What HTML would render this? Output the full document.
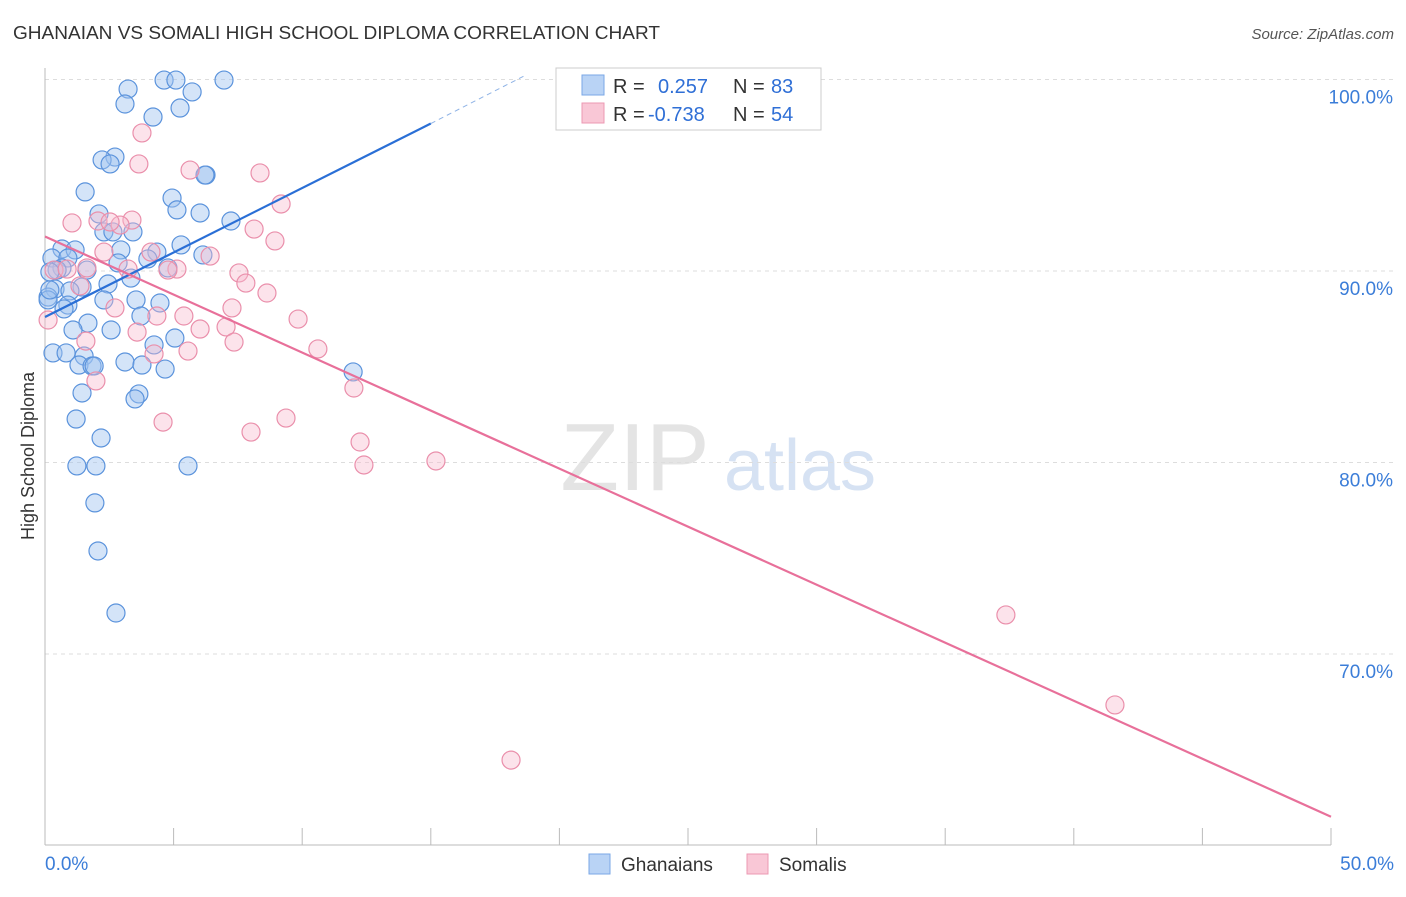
<!DOCTYPE html>
<html><head><meta charset="utf-8">
<style>
body{margin:0;background:#fff;font-family:"Liberation Sans",sans-serif;}
svg text{font-family:"Liberation Sans",sans-serif;}
</style></head>
<body>
<svg id="chart" width="1406" height="892" xmlns="http://www.w3.org/2000/svg">
<text x="13" y="39" font-size="18" fill="#333" textLength="647" lengthAdjust="spacingAndGlyphs">GHANAIAN VS SOMALI HIGH SCHOOL DIPLOMA CORRELATION CHART</text>
<text x="1394" y="39" font-size="15" fill="#555" text-anchor="end" font-style="italic">Source: ZipAtlas.com</text>
<text transform="translate(34,456) rotate(-90)" font-size="18" fill="#333" text-anchor="middle">High School Diploma</text>
<g>
<text x="635" y="490" font-size="96" fill="#e4e4e4" text-anchor="middle" font-family="Liberation Serif,serif">ZIP</text>
<text x="800" y="490" font-size="72" fill="#d6e2f3" text-anchor="middle">atlas</text>
</g>
<g id="grid"></g><g id="axes"></g><g id="pts"></g><g id="lines"></g>
<g>
<rect x="556" y="68" width="265" height="62" fill="#fff" stroke="#ccc"/>
<rect x="582" y="75" width="22" height="20" fill="#b9d3f5" stroke="#7aa7e6"/>
<rect x="582" y="103" width="22" height="20" fill="#f9c7d6" stroke="#ec99b3"/>
<text x="613" y="93" font-size="20" fill="#333">R =</text><text x="658" y="93" font-size="20" fill="#2f6fd6">0.257</text>
<text x="733" y="93" font-size="20" fill="#333">N =</text><text x="771" y="93" font-size="20" fill="#2f6fd6">83</text>
<text x="613" y="121" font-size="20" fill="#333">R =</text><text x="648" y="121" font-size="20" fill="#2f6fd6">-0.738</text>
<text x="733" y="121" font-size="20" fill="#333">N =</text><text x="771" y="121" font-size="20" fill="#2f6fd6">54</text>
</g>
<g>
<rect x="589" y="854" width="21" height="20" fill="#b9d3f5" stroke="#7aa7e6"/>
<text x="621" y="871" font-size="19" fill="#333">Ghanaians</text>
<rect x="747" y="854" width="21" height="20" fill="#f9c7d6" stroke="#ec99b3"/>
<text x="779" y="871" font-size="19" fill="#333">Somalis</text>
</g>
</svg>
<script>
const xTicks=[0,5,10,15,20,25,30,35,40,45,50];
const yTicks=[70,80,90,100];
const yTickLabels=["70.0%","80.0%","90.0%","100.0%"];
const bluePx=[[164,80],[176,80],[224,80],[128,89],[192,92],[125,104],[180,108],[153,117],[115,157],[102,160],[110,164],[206,175],[205,175],[85,192],[172,198],[177,210],[99,214],[200,213],[231,221],[104,232],[113,232],[133,232],[62,249],[75,250],[181,245],[121,250],[157,252],[148,259],[52,258],[68,258],[118,263],[203,255],[168,268],[62,268],[57,270],[50,272],[87,270],[131,278],[108,284],[55,289],[82,287],[70,291],[48,297],[104,300],[136,300],[160,303],[68,305],[64,309],[141,316],[88,323],[73,330],[111,330],[175,338],[154,345],[53,353],[66,353],[84,356],[125,362],[142,365],[79,365],[92,366],[94,366],[165,369],[353,372],[82,393],[139,394],[135,399],[76,419],[101,438],[77,466],[96,466],[188,466],[95,503],[98,551],[116,613],[48,300],[50,290]];
const pinkPx=[[142,133],[139,164],[190,170],[260,173],[281,204],[132,220],[72,223],[98,221],[120,225],[254,229],[275,241],[104,252],[151,252],[210,256],[87,268],[128,269],[177,269],[168,270],[54,270],[67,269],[239,273],[246,283],[80,286],[267,293],[115,308],[232,308],[184,316],[298,319],[157,316],[137,332],[200,329],[226,327],[86,341],[234,342],[318,349],[188,351],[154,354],[96,381],[354,388],[163,422],[286,418],[251,432],[360,442],[364,465],[436,461],[1006,615],[1115,705],[511,760],[48,320],[110,222]];
const blueX=bluePx.map(p=>+((p[0]-45)/1286*50).toFixed(2));
const blueY=bluePx.map(p=>+(100-(p[1]-79.5)/19.15).toFixed(2));
const pinkX=pinkPx.map(p=>+((p[0]-45)/1286*50).toFixed(2));
const pinkY=pinkPx.map(p=>+(100-(p[1]-79.5)/19.15).toFixed(2));
const blueLine=[[0,87.6],[15,97.7]], blueDash=[[15,97.7],[18.65,100.2]];
const pinkLine=[[0,91.8],[50,61.5]];
const X=v=>45+v/50*1286, Y=v=>79.5+(100-v)*19.15;
const NS="http://www.w3.org/2000/svg";
function mk(t,a,parent){const e=document.createElementNS(NS,t);for(const k in a)e.setAttribute(k,a[k]);document.getElementById(parent).appendChild(e);return e;}
yTicks.forEach((t,i)=>{
 const g=mk('line',{x1:45,x2:1394,y1:Y(t),y2:Y(t),stroke:'#ddd','stroke-dasharray':'4,4'},'grid');
 
 
 const l=mk('text',{x:1393,y:Y(t)+24,'font-size':19,fill:'#3b7dd8','text-anchor':'end'},'axes');l.textContent=yTickLabels[i];
 
 
});
mk('line',{x1:45,x2:1331,y1:845,y2:845,stroke:'#bbb'},'axes');
mk('line',{x1:45,x2:45,y1:68,y2:845,stroke:'#bbb'},'axes');
xTicks.forEach(t=>{const e=mk('line',{x1:X(t),x2:X(t),y1:828,y2:845,stroke:'#bbb'},'axes');
 
 });
let a=mk('text',{x:45,y:870,'font-size':19,fill:'#3b7dd8'},'axes');a.textContent='0.0%';


a=mk('text',{x:1394,y:870,'font-size':19,fill:'#3b7dd8','text-anchor':'end'},'axes');a.textContent='50.0%';


blueX.forEach((v,i)=>{const c=mk('circle',{cx:X(v),cy:Y(blueY[i]),r:9,fill:'rgba(160,196,240,0.45)',stroke:'#5b93dc','stroke-width':1.2},'pts');
 
 });
pinkX.forEach((v,i)=>{const c=mk('circle',{cx:X(v),cy:Y(pinkY[i]),r:9,fill:'rgba(248,184,204,0.4)',stroke:'#ea8fab','stroke-width':1.2},'pts');
 
 });
let ln=mk('line',{x1:X(blueLine[0][0]),y1:Y(blueLine[0][1]),x2:X(blueLine[1][0]),y2:Y(blueLine[1][1]),stroke:'#2a6fd6','stroke-width':2.2},'lines');


ln=mk('line',{x1:X(blueDash[0][0]),y1:Y(blueDash[0][1]),x2:X(blueDash[1][0]),y2:Y(blueDash[1][1]),stroke:'#8fb3e6','stroke-width':1,'stroke-dasharray':'5,4'},'lines');


ln=mk('line',{x1:X(pinkLine[0][0]),y1:Y(pinkLine[0][1]),x2:X(pinkLine[1][0]),y2:Y(pinkLine[1][1]),stroke:'#e8709a','stroke-width':2.2},'lines');


</script>
</body></html>
